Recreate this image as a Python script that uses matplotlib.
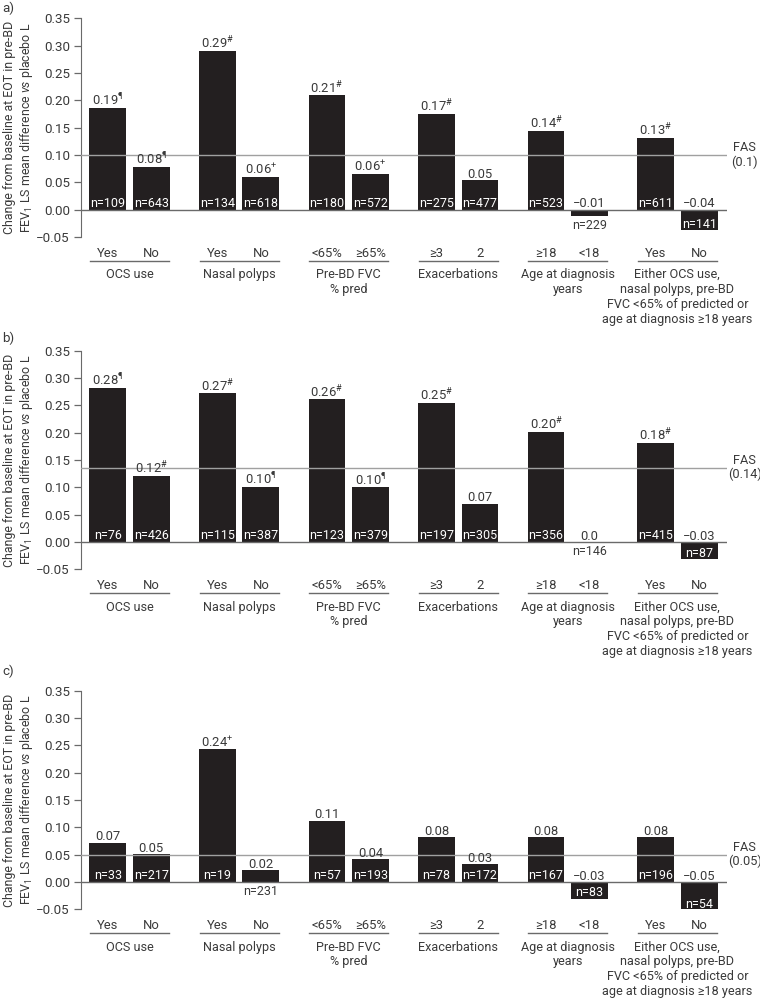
import matplotlib
matplotlib.use("Agg")
import matplotlib.pyplot as plt
import numpy as np

plt.rcParams['font.family'] = ['Roboto', 'DejaVu Sans']
plt.rcParams['mathtext.fontset'] = 'custom'
plt.rcParams['mathtext.rm'] = 'Roboto'
plt.rcParams['mathtext.it'] = 'Roboto:italic'
plt.rcParams['mathtext.bf'] = 'Roboto:bold'
FS = 9.0
plt.rcParams['font.size'] = FS

# ---------------- data ----------------
sub_labels = ["Yes", "No", "Yes", "No", "<65%", "≥65%", "≥3", "2", "≥18", "<18", "Yes", "No"]
group_labels = ["OCS use", "Nasal polyps", "Pre-BD FVC\n% pred", "Exacerbations",
                "Age at diagnosis\nyears",
                "Either OCS use,\nnasal polyps, pre-BD\nFVC <65% of predicted or\nage at diagnosis ≥18 years"]
panel_names = ["a)", "b)", "c)"]

values_a = [0.186, 0.078, 0.290, 0.060, 0.209, 0.066, 0.175, 0.054, 0.144, -0.012, 0.132, -0.038]
values_b = [0.282, 0.121, 0.272, 0.101, 0.261, 0.100, 0.254, 0.070, 0.202, 0.0, 0.181, -0.032]
values_c = [0.072, 0.051, 0.243, 0.021, 0.112, 0.042, 0.082, 0.032, 0.082, -0.031, 0.082, -0.053]

text_a = ["0.19", "0.08", "0.29", "0.06", "0.21", "0.06", "0.17", "0.05", "0.14", "−0.01", "0.13", "−0.04"]
text_b = ["0.28", "0.12", "0.27", "0.10", "0.26", "0.10", "0.25", "0.07", "0.20", "0.0", "0.18", "−0.03"]
text_c = ["0.07", "0.05", "0.24", "0.02", "0.11", "0.04", "0.08", "0.03", "0.08", "−0.03", "0.08", "−0.05"]

sig_a = ["¶", "¶", "#", "+", "#", "+", "#", "", "#", "", "#", ""]
sig_b = ["¶", "#", "#", "¶", "#", "¶", "#", "", "#", "", "#", ""]
sig_c = ["", "", "+", "", "", "", "", "", "", "", "", ""]

n_a = [109, 643, 134, 618, 180, 572, 275, 477, 523, 229, 611, 141]
n_b = [76, 426, 115, 387, 123, 379, 197, 305, 356, 146, 415, 87]
n_c = [33, 217, 19, 231, 57, 193, 78, 172, 167, 83, 196, 54]

fas_values = [0.1, 0.136, 0.05]
fas_text = ["0.1", "0.14", "0.05"]

panels = [
    (values_a, text_a, sig_a, n_a),
    (values_b, text_b, sig_b, n_b),
    (values_c, text_c, sig_c, n_c),
]

# ---------------- style ----------------
BAR = "#231f20"
TXT = "#3a3a3a"
AXC = "#6a6a6a"
FASC = "#a0a0a0"

fig = plt.figure(figsize=(7.6, 10), dpi=100)
bottoms = [0.763, 0.4307, 0.0907]
panel_label_y = [0.998, 0.668, 0.335]

def sig_fmt(s):
    if s == "":
        return ""
    if s == "#":
        return r"$^{\#}$"
    return "$^{" + s + "}$"

for p, (vals, txts, sigs, ns) in enumerate(panels):
    ax = fig.add_axes([81 / 760, bottoms[p], 646 / 760, 0.2186])
    ax.set_xlim(-1.33, 16.36)
    ax.set_ylim(-0.05, 0.35)
    xs = []
    for g in range(6):
        xs += [3 * g - 0.595, 3 * g + 0.595]
    xs = np.array(xs)
    ax.bar(xs, vals, width=1.01, color=BAR, zorder=2)
    ax.axhline(0, color=AXC, lw=1.0, zorder=3)
    ax.axhline(fas_values[p], color=FASC, lw=1.0, zorder=3)

    for spine in ["top", "right", "bottom"]:
        ax.spines[spine].set_visible(False)
    ax.spines["left"].set_color(AXC)
    ax.spines["left"].set_bounds(-0.05, 0.35)
    ticks = np.round(np.arange(-0.05, 0.351, 0.05), 2)
    ax.set_yticks(ticks)
    ax.set_yticklabels([("−%.2f" % abs(t)) if t < 0 else "%.2f" % t for t in ticks])
    ax.tick_params(axis="y", colors=AXC, labelcolor=TXT, labelsize=9.6, length=5, width=0.9, pad=3)
    ax.set_xticks([])

    for i, (x, v) in enumerate(zip(xs, vals)):
        # value label
        ax.text(x, max(v, 0) + 0.0045, txts[i] + sig_fmt(sigs[i]), ha="center", va="baseline",
                color=TXT, fontsize=9.4, clip_on=False)
        # n label
        lbl = "n=%d" % ns[i]
        if abs(v) >= 0.025:
            y = 0.0055 if v > 0 else v + 0.0045
            ax.text(x, y, lbl, ha="center", va="baseline", color="white", fontsize=FS, zorder=4)
        else:
            ax.text(x, min(v, 0) - 0.023, lbl, ha="center", va="baseline", color=TXT,
                    fontsize=FS, clip_on=False)
        # sub label
        ax.text(x, -0.086, sub_labels[i], ha="center", va="baseline", color=TXT,
                fontsize=9.4, clip_on=False)

    for g in range(6):
        ax.plot([3 * g - 1.08, 3 * g + 1.08], [-0.094, -0.094], color=AXC, lw=1.0, clip_on=False)
        for k, line in enumerate(group_labels[g].split("\n")):
            ax.text(3 * g, -0.1255 - 0.0272 * k, line, ha="center", va="baseline", color=TXT,
                    fontsize=9.1, clip_on=False)

    ax.text(16.85, fas_values[p], "FAS\n(" + fas_text[p] + ")", ha="center", va="center",
            color=TXT, fontsize=9.2, linespacing=1.12, clip_on=False)

    fig.text(19 / 760, bottoms[p] + 0.2186 / 2,
             "Change from baseline at EOT in pre-BD\nFEV$_1$ LS mean difference $\\it{vs}$ placebo L",
             rotation=90, ha="center", va="center", color=TXT, fontsize=8.9,
             multialignment="center", linespacing=1.15)
    fig.text(0.003, panel_label_y[p], panel_names[p], ha="left", va="top", color=TXT, fontsize=9.6)

fig.savefig("out.png", dpi=100)
